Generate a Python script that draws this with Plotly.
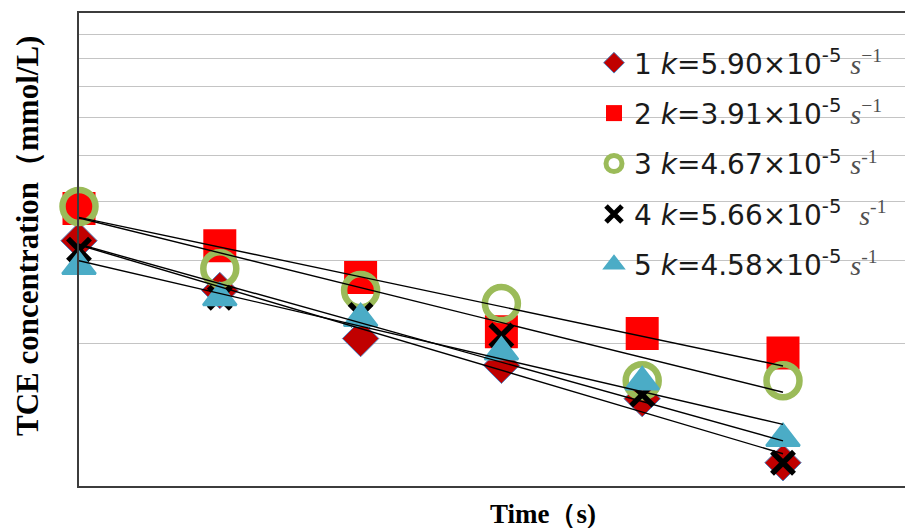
import numpy as np
import plotly.graph_objects as go

# ---- data (y axis is logarithmic, 1 decade tall) ----
time_s = [0, 3600, 7200, 10800, 14400, 18000]
conc_1 = [3.30, 2.59, 2.05, 1.80, 1.53, 1.12]
conc_2 = [3.86, 3.22, 2.76, 2.12, 2.10, 1.91]
conc_3 = [3.90, 2.88, 2.59, 2.43, 1.67, 1.67]
conc_4 = [3.16, 2.50, 2.30, 2.08, 1.56, 1.12]
conc_5 = [2.91, 2.50, 2.26, 1.92, 1.66, 1.26]

series_ids = ["1", "2", "3", "4", "5"]
k_labels = ["5.90", "3.91", "4.67", "5.66", "4.58"]
unit_exp = ["−1", "−1", "-1", "-1", "-1"]
y_grid_vals = [2, 3, 4, 5, 6, 7, 8, 9]

x_title = "Time（s)"
y_title = "TCE concentration（mmol/L)"

all_conc = [conc_1, conc_2, conc_3, conc_4, conc_5]

styles = [
    dict(symbol="diamond", size=28, color="#C00000", line=dict(color="#4F81BD", width=1)),
    dict(symbol="square", size=33, color="#FF0000", line=dict(color="#FF0000", width=0)),
    dict(symbol="circle-open", size=33, color="#9BBB59", line=dict(color="#9BBB59", width=6.5)),
    dict(symbol="x-thin", size=22, color="#000000", line=dict(color="#000000", width=5.5)),
    dict(symbol="triangle-up", size=29, color="#4BACC6", line=dict(color="#4BACC6", width=2.5)),
]

fig = go.Figure()

for sid, kl, ue, conc, st in zip(series_ids, k_labels, unit_exp, all_conc, styles):
    name = (f"{sid} <i>k</i>=" + f"{kl}×10<sup>-5</sup> "
            + ("&#160;" if sid == "4" else "")
            + f"<span style='font-family:Liberation Serif;color:#505050'><i>s</i><sup>{ue}</sup></span>")
    fig.add_trace(go.Scatter(
        x=time_s, y=conc, mode="markers", name=name,
        legendgroup=f"g{sid}",
        marker=st, cliponaxis=False,
    ))

# exponential trendlines (least squares on ln C), straight on the log axis
t_arr = np.array(time_s, dtype=float)
for sid, conc in zip(series_ids, all_conc):
    slope, intercept = np.polyfit(t_arr, np.log(conc), 1)
    fit = np.exp(intercept + slope * t_arr)
    fig.add_trace(go.Scatter(
        x=time_s, y=fit, mode="lines", showlegend=False,
        line=dict(color="#000000", width=1.4), hoverinfo="skip",
    ))

# page body has an 8px margin: work in screen pixels, convert to figure pixels
OFF = 8
SW, SH = 913, 528
W, H = SW - OFF, SH - OFF
left_s, top_s, bottom_s = 79, 13, 486
L = left_s - OFF
T = top_s - OFF
B = (OFF + H) - bottom_s
R = 0
pw = W - L - R
ph = H - T - B

def px_x(sx):
    return (sx - left_s) / pw

def px_y(sy):
    return (bottom_s - sy) / ph

x_max = (OFF + W - left_s) / 704 * 18000

fig.update_layout(
    width=W, height=H,
    margin=dict(l=L, r=R, t=T, b=B),
    paper_bgcolor="white", plot_bgcolor="white",
    showlegend=True,
    legend=dict(
        x=px_x(594), y=px_y(38), xanchor="left", yanchor="top",
        bgcolor="rgba(0,0,0,0)",
        font=dict(family="DejaVu Sans", size=28, color="#1a1a1a"),
        tracegroupgap=11, traceorder="grouped",
    ),
    xaxis=dict(
        range=[0, x_max], showgrid=False, zeroline=False,
        showline=True, linecolor="#3c3c3c", linewidth=2, mirror=True,
        ticks="", showticklabels=False,
    ),
    yaxis=dict(
        type="log", range=[0, 1], tickvals=y_grid_vals,
        showgrid=True, gridcolor="#c4c4c4", gridwidth=1.4,
        zeroline=False, showline=True, linecolor="#3c3c3c", linewidth=2,
        ticks="", showticklabels=False,
    ),
    annotations=[
        dict(text="<b>" + y_title + "</b>", xref="paper", yref="paper",
             x=px_x(27), y=px_y(236),
             xanchor="center", yanchor="middle", textangle=-90, showarrow=False,
             font=dict(family="Liberation Serif", size=31, color="#000000")),
        dict(text="<b>" + x_title + "</b>", xref="paper", yref="paper",
             x=px_x(543), y=px_y(514),
             xanchor="center", yanchor="middle", showarrow=False,
             font=dict(family="Liberation Serif", size=27, color="#000000")),
    ],
)

fig.write_html("out.html")
